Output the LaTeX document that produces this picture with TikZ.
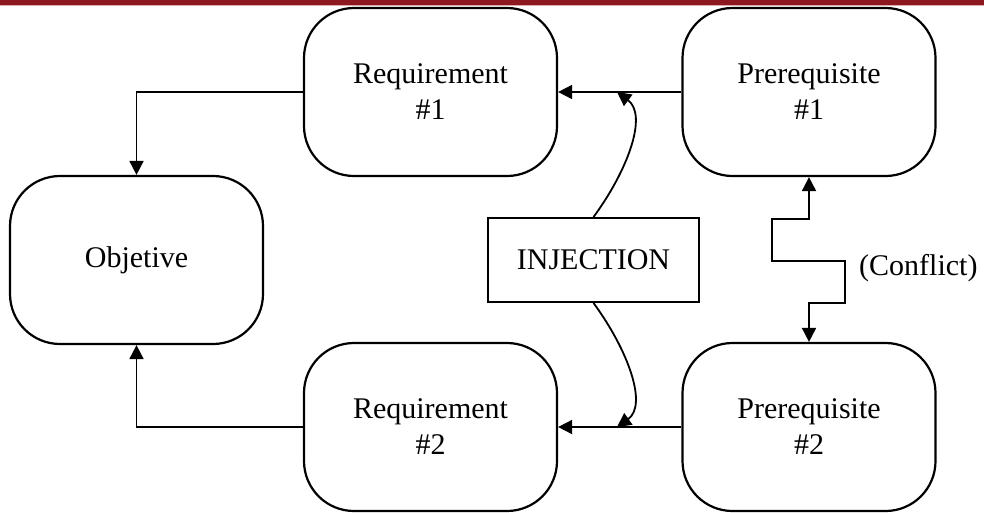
\documentclass[tikz,border=0pt]{standalone}
\usepackage{fontspec}
\setmainfont{Liberation Serif}
\usetikzlibrary{arrows.meta}
\definecolor{barred}{RGB}{140,24,32}
\definecolor{barpink}{RGB}{222,168,172}
\begin{document}
\begin{tikzpicture}[x=1pt,y=-1pt,
  every node/.style={font=\fontsize{30}{36}\selectfont},
  roundbox/.style={draw,line width=2.2pt,rectangle,rounded corners=50pt,
    minimum width=253pt,minimum height=168pt,align=center,inner sep=0pt},
  injbox/.style={draw,line width=1.9pt,rectangle,minimum width=211pt,
    minimum height=84pt,inner sep=0pt},
  link/.style={line width=1.8pt,-{Triangle[length=14pt,width=14pt]}},
  twoway/.style={line width=1.8pt,{Triangle[length=14pt,width=14pt]}-{Triangle[length=14pt,width=14pt]}}]
  \useasboundingbox (0,0) rectangle (984,512);
  % header band
  \fill[barred] (0,0) rectangle (984,4.8);
  \fill[barpink] (0,4.8) rectangle (984,6.2);

  \node[roundbox] (req1) at (430.5,92) {Requirement\\\#1};
  \node[roundbox] (pre1) at (809,92) {Prerequisite\\\#1};
  \node[roundbox] (obj) at (136.5,260) {Objetive};
  \node[roundbox] (req2) at (430.5,427) {Requirement\\\#2};
  \node[roundbox] (pre2) at (809,427) {Prerequisite\\\#2};
  \node[injbox] (inj) at (593.5,260) {INJECTION};
  \node[anchor=west,inner sep=0pt] (conf) at (859,268) {(Conflict)};

  \coordinate (hit1) at (617,92);
  \coordinate (hit2) at (617,427);

  \draw[link] (req1.west) -| (obj.north);
  \draw[link] (req2.west) -| (obj.south);
  \draw[link] (pre1.west) -- (req1.east);
  \draw[link] (pre2.west) -- (req2.east);

  % conflict zigzag between the prerequisites
  \draw[twoway] (pre1.south) -- ++(0,42) -- ++(-37,0) -- ++(0,42)
    -- ++(73,0) -- ++(0,42) -- ++(-36,0) -- (pre2.north);

  % injection curves
  \draw[link] (inj.north) .. controls (628,170) and (648,115) .. (hit1);
  \draw[link] (inj.south) .. controls (628,350) and (648,405) .. (hit2);
\end{tikzpicture}
\end{document}
